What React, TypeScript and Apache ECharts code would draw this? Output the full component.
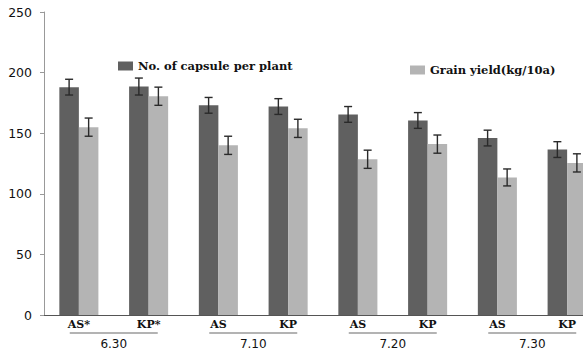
import React, { useEffect, useRef } from "react";
import * as echarts from "echarts";

const categories = ["AS*", "KP*", "AS", "KP", "AS", "KP", "AS", "KP"];
const dates = ["6.30", "7.10", "7.20", "7.30"];
const capsule = [188, 188.5, 173, 172, 165.5, 160.5, 146, 136.5];
const capsuleErr = [6.5, 7, 6.5, 6.5, 6.5, 6.5, 6.5, 6.5];
const grainYield = [155, 180.5, 140, 154, 128.5, 141, 113.5, 125.5];
const grainYieldErr = [7.5, 7.5, 7.5, 7.5, 7.5, 7.5, 7, 7.5];
const yMin = 0;
const yMax = 250;
const yStep = 50;

const BAR_RATIO = 0.28;

function errorSeries(vals: number[], errs: number[], side: number) {
  return {
    type: "custom",
    xAxisIndex: 0,
    yAxisIndex: 0,
    z: 10,
    silent: true,
    data: vals.map((v, i) => [i, v, errs[i]]),
    encode: { x: 0, y: 1 },
    renderItem: (params: any, api: any) => {
      const i = api.value(0);
      const v = api.value(1);
      const e = api.value(2);
      const band = api.size([1, 0])[0];
      const bw = band * BAR_RATIO;
      const c = api.coord([i, v]);
      const x = c[0] + (side * bw) / 2;
      const top = api.coord([i, v + e])[1];
      const bot = api.coord([i, v - e])[1];
      const cap = 4;
      const style = { stroke: "#2a2a2a", lineWidth: 1.4 };
      return {
        type: "group",
        children: [
          { type: "line", shape: { x1: x, y1: top, x2: x, y2: bot }, style },
          { type: "line", shape: { x1: x - cap, y1: top, x2: x + cap, y2: top }, style },
          { type: "line", shape: { x1: x - cap, y1: bot, x2: x + cap, y2: bot }, style },
        ],
      };
    },
  };
}

export default function App() {
  const ref = useRef<HTMLDivElement>(null);
  useEffect(() => {
    document.body.style.margin = "0";
    const chart = echarts.init(ref.current!, null, { renderer: "svg" });
    const serif = "'DejaVu Serif', serif";
    const sans = "'DejaVu Sans', sans-serif";
    chart.setOption({
      animation: false,
      backgroundColor: "#ffffff",
      grid: { left: 44, top: 12, height: 303, width: 558, containLabel: false },
      legend: [
        {
          data: ["No. of capsule per plant"],
          left: 113,
          top: 55,
          icon: "rect",
          itemWidth: 15,
          itemHeight: 9,
          itemGap: 6,
          textStyle: { fontFamily: serif, fontSize: 11.5, color: "#111", fontWeight: "bold" },
        },
        {
          data: ["Grain yield(kg/10a)"],
          left: 405,
          top: 59,
          icon: "rect",
          itemWidth: 15,
          itemHeight: 9,
          itemGap: 6,
          textStyle: { fontFamily: serif, fontSize: 11.5, color: "#111", fontWeight: "bold" },
        },
      ],
      xAxis: [
        {
          type: "category",
          data: categories,
          position: "bottom",
          axisLine: { lineStyle: { color: "#555", width: 1.2 } },
          axisTick: { show: false },
          axisLabel: {
            interval: 0,
            margin: 4,
            fontFamily: serif,
            fontWeight: "bold",
            fontSize: 11,
            color: "#111",
          },
        },
        {
          type: "category",
          data: dates,
          position: "bottom",
          offset: 20,
          axisLine: { show: false },
          axisTick: { show: false },
          axisLabel: {
            interval: 0,
            margin: 3,
            fontFamily: sans,
            fontSize: 12,
            color: "#111",
          },
        },
      ],
      yAxis: {
        type: "value",
        min: yMin,
        max: yMax,
        interval: yStep,
        splitLine: { show: false },
        axisLine: { show: true, lineStyle: { color: "#999", width: 1 } },
        axisTick: { show: true, length: 4, lineStyle: { color: "#999" } },
        axisLabel: { margin: 12, fontFamily: sans, fontSize: 12.5, color: "#111" },
      },
      series: [
        {
          name: "No. of capsule per plant",
          type: "bar",
          data: capsule,
          barWidth: BAR_RATIO * 100 + "%",
          barGap: "0%",
          itemStyle: { color: "#606060" },
        },
        {
          name: "Grain yield(kg/10a)",
          type: "bar",
          data: grainYield,
          barWidth: BAR_RATIO * 100 + "%",
          barGap: "0%",
          itemStyle: { color: "#b4b4b4" },
        },
        errorSeries(capsule, capsuleErr, -1),
        errorSeries(grainYield, grainYieldErr, 1),
      ],
    });
    const y0 = chart.convertToPixel({ yAxisIndex: 0 }, 0) as number;
    const lines = dates.map((d, i) => {
      const cx = chart.convertToPixel({ xAxisIndex: 1 }, i) as number;
      return {
        type: "line",
        shape: { x1: cx - 44, y1: y0 + 18, x2: cx + 44, y2: y0 + 18 },
        style: { stroke: "#9a9a9a", lineWidth: 1.5 },
      };
    });
    chart.setOption({ graphic: lines });
    return () => chart.dispose();
  }, []);
  return (
    <div style={{ width: 583, height: 353, overflow: "hidden", position: "relative" }}>
      <div ref={ref} style={{ width: 620, height: 353 }} />
    </div>
  );
}
